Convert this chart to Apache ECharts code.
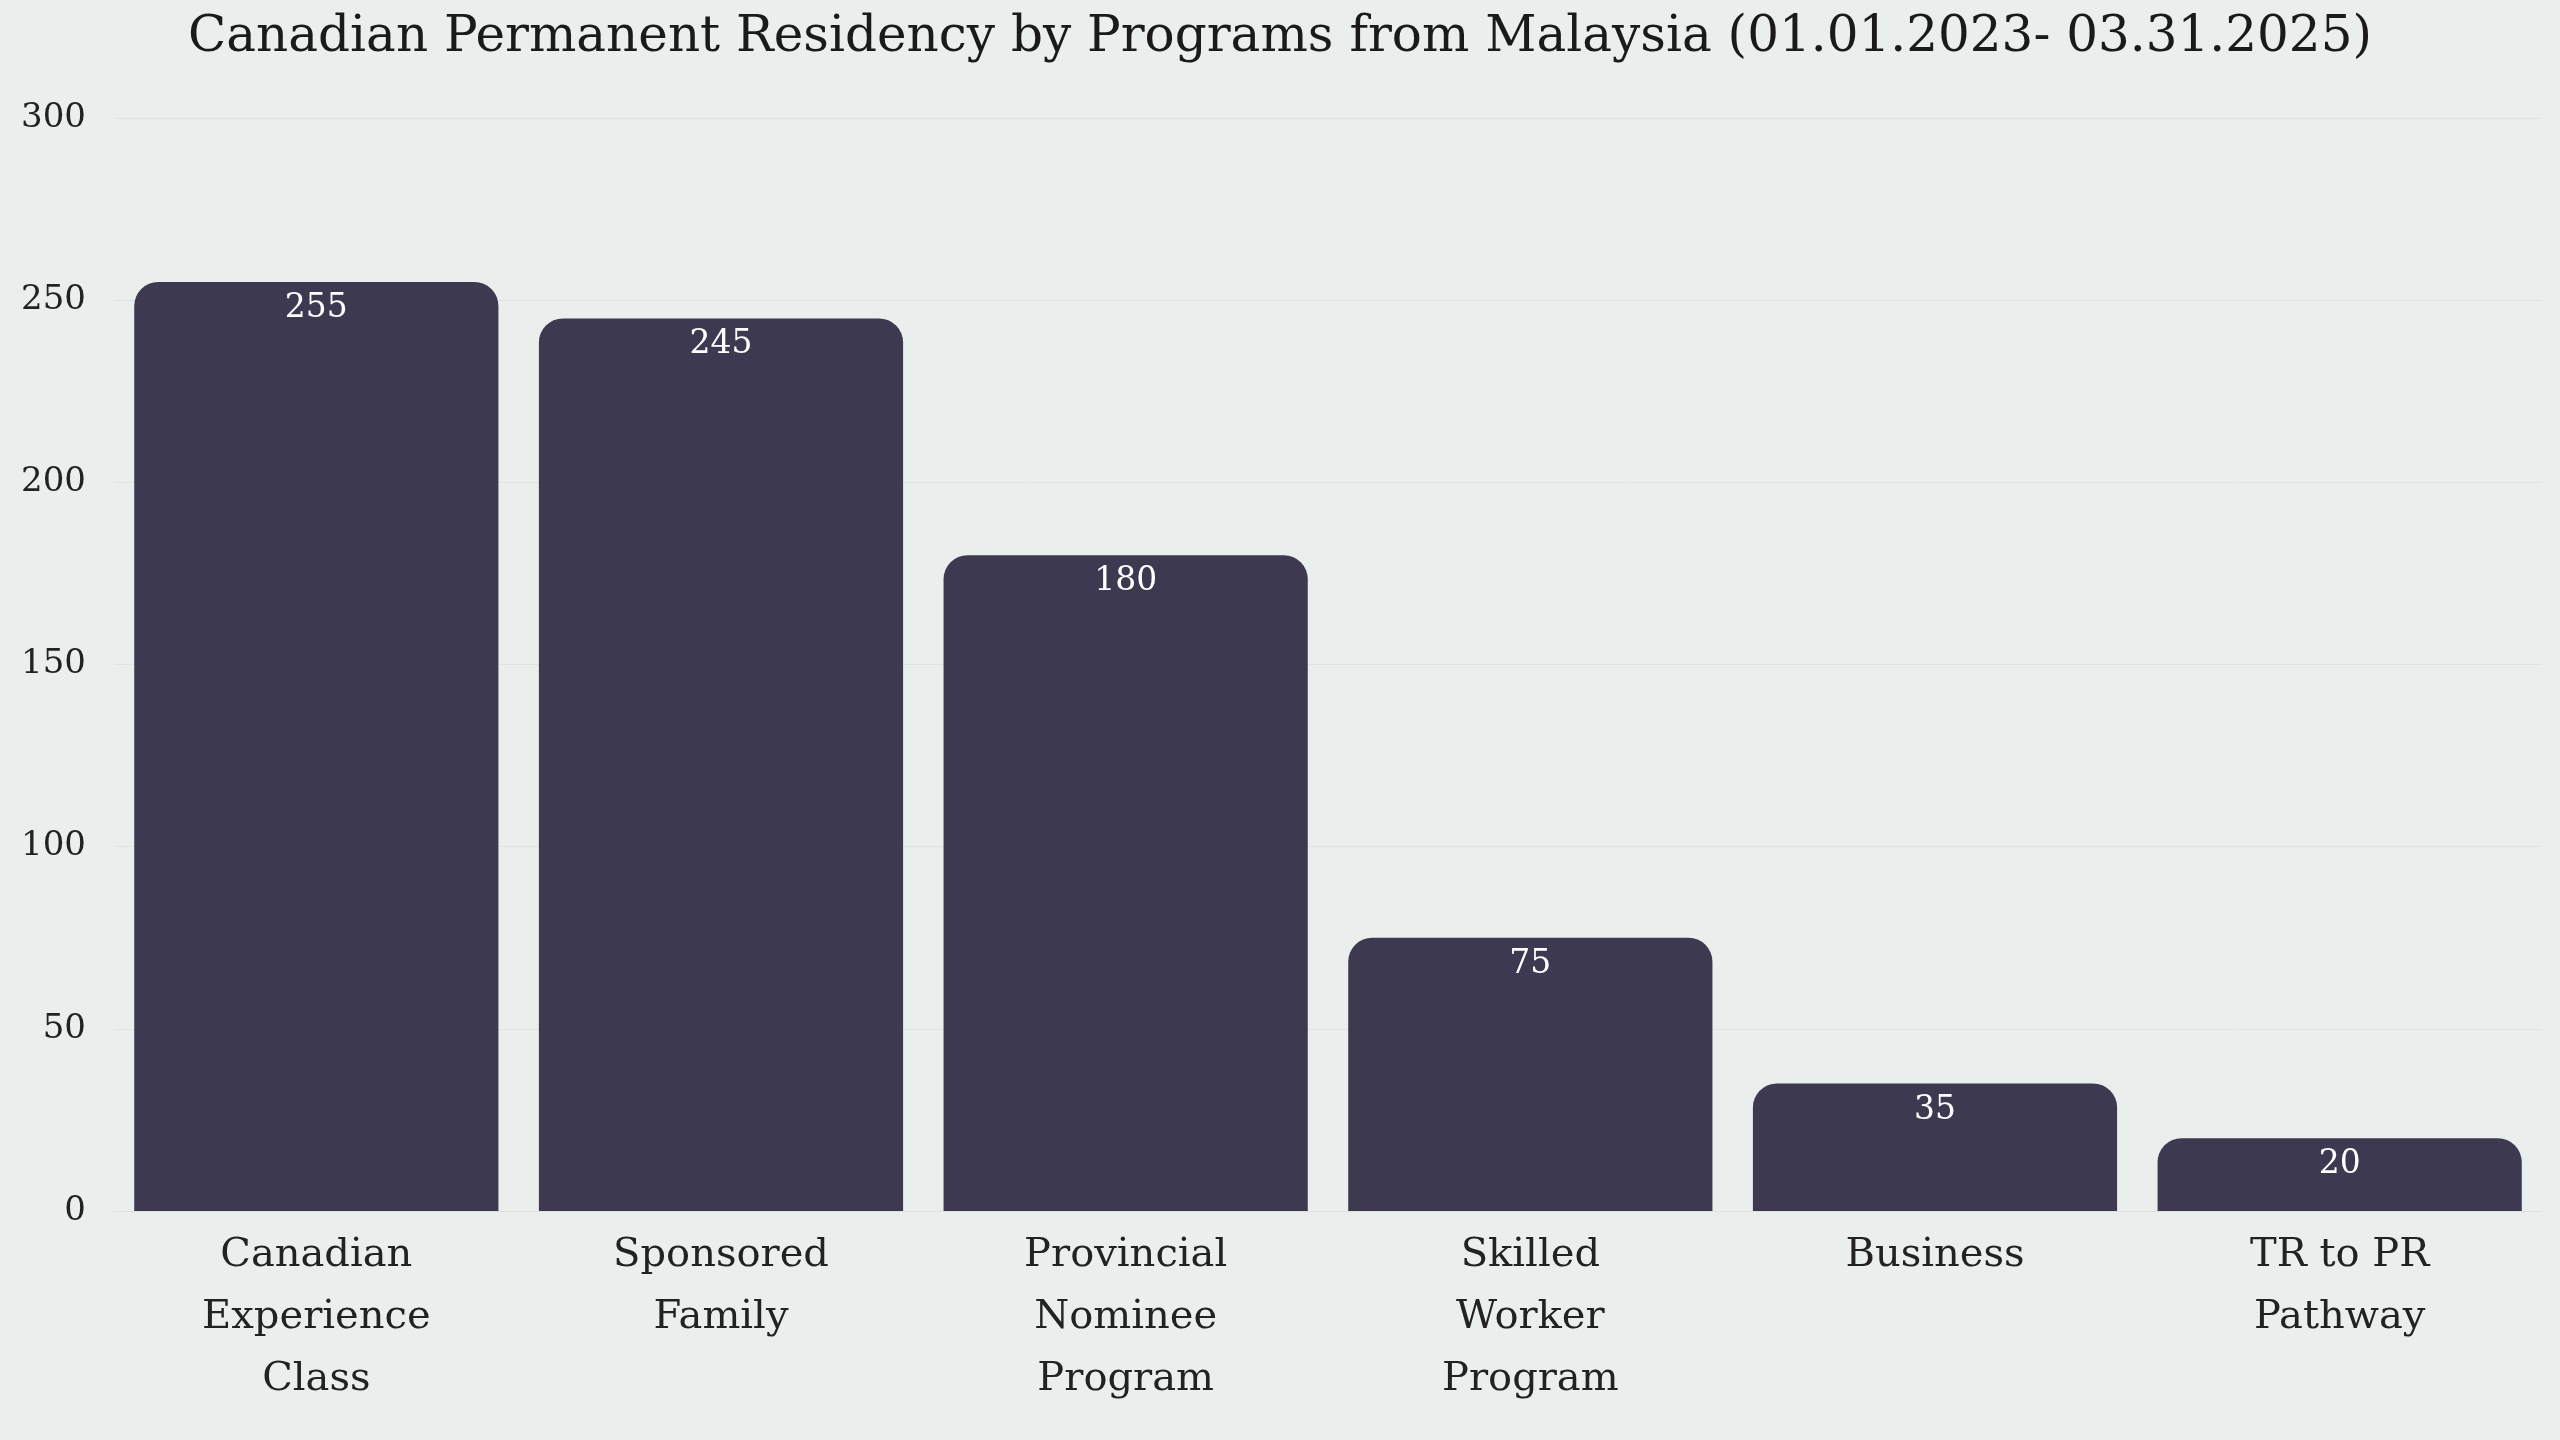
<!DOCTYPE html>
<html><head><meta charset="utf-8">
<script src="https://cdn.jsdelivr.net/npm/echarts@6/dist/echarts.min.js"></script>
<style>html,body{margin:0;padding:0;background:#EAEEEC}#c{width:2560px;height:1440px}</style>
</head><body><div id="c"></div>
<script>
const categories = ["Canadian\nExperience\nClass","Sponsored\nFamily","Provincial\nNominee\nProgram","Skilled\nWorker\nProgram","Business","TR to PR\nPathway"];
const values = [255,245,180,75,35,20];
const yTicks = [0,50,100,150,200,250,300];
const F = "DejaVu Serif";
const chart = echarts.init(document.getElementById('c'));
chart.setOption({
  backgroundColor:'#EAEEEC',
  title:{text:'Canadian Permanent Residency by Programs from Malaysia (01.01.2023- 03.31.2025)',left:'center',top:8,textStyle:{fontFamily:F,fontWeight:'normal',fontSize:50,color:'#1a1a1a'}},
  grid:{left:114,right:18,top:118,bottom:229},
  xAxis:{type:'category',data:categories,axisTick:{show:false},axisLine:{show:true,lineStyle:{color:'#dde2df'}},
    axisLabel:{fontFamily:F,fontSize:40,color:'#222',lineHeight:62,margin:14,interval:0}},
  yAxis:{type:'value',min:yTicks[0],max:yTicks[yTicks.length-1],interval:50,
    axisLabel:{fontFamily:F,fontSize:34,color:'#222',margin:28},
    splitLine:{lineStyle:{color:'#dfe4e1',width:1}},axisLine:{show:false},axisTick:{show:false}},
  series:[{type:'bar',data:values,barCategoryGap:'10%',
    itemStyle:{color:'#3D3950',borderRadius:[24,24,0,0]},
    label:{show:true,position:'insideTop',distance:10,color:'#fff',fontFamily:F,fontSize:33}}]
});
</script></body></html>
